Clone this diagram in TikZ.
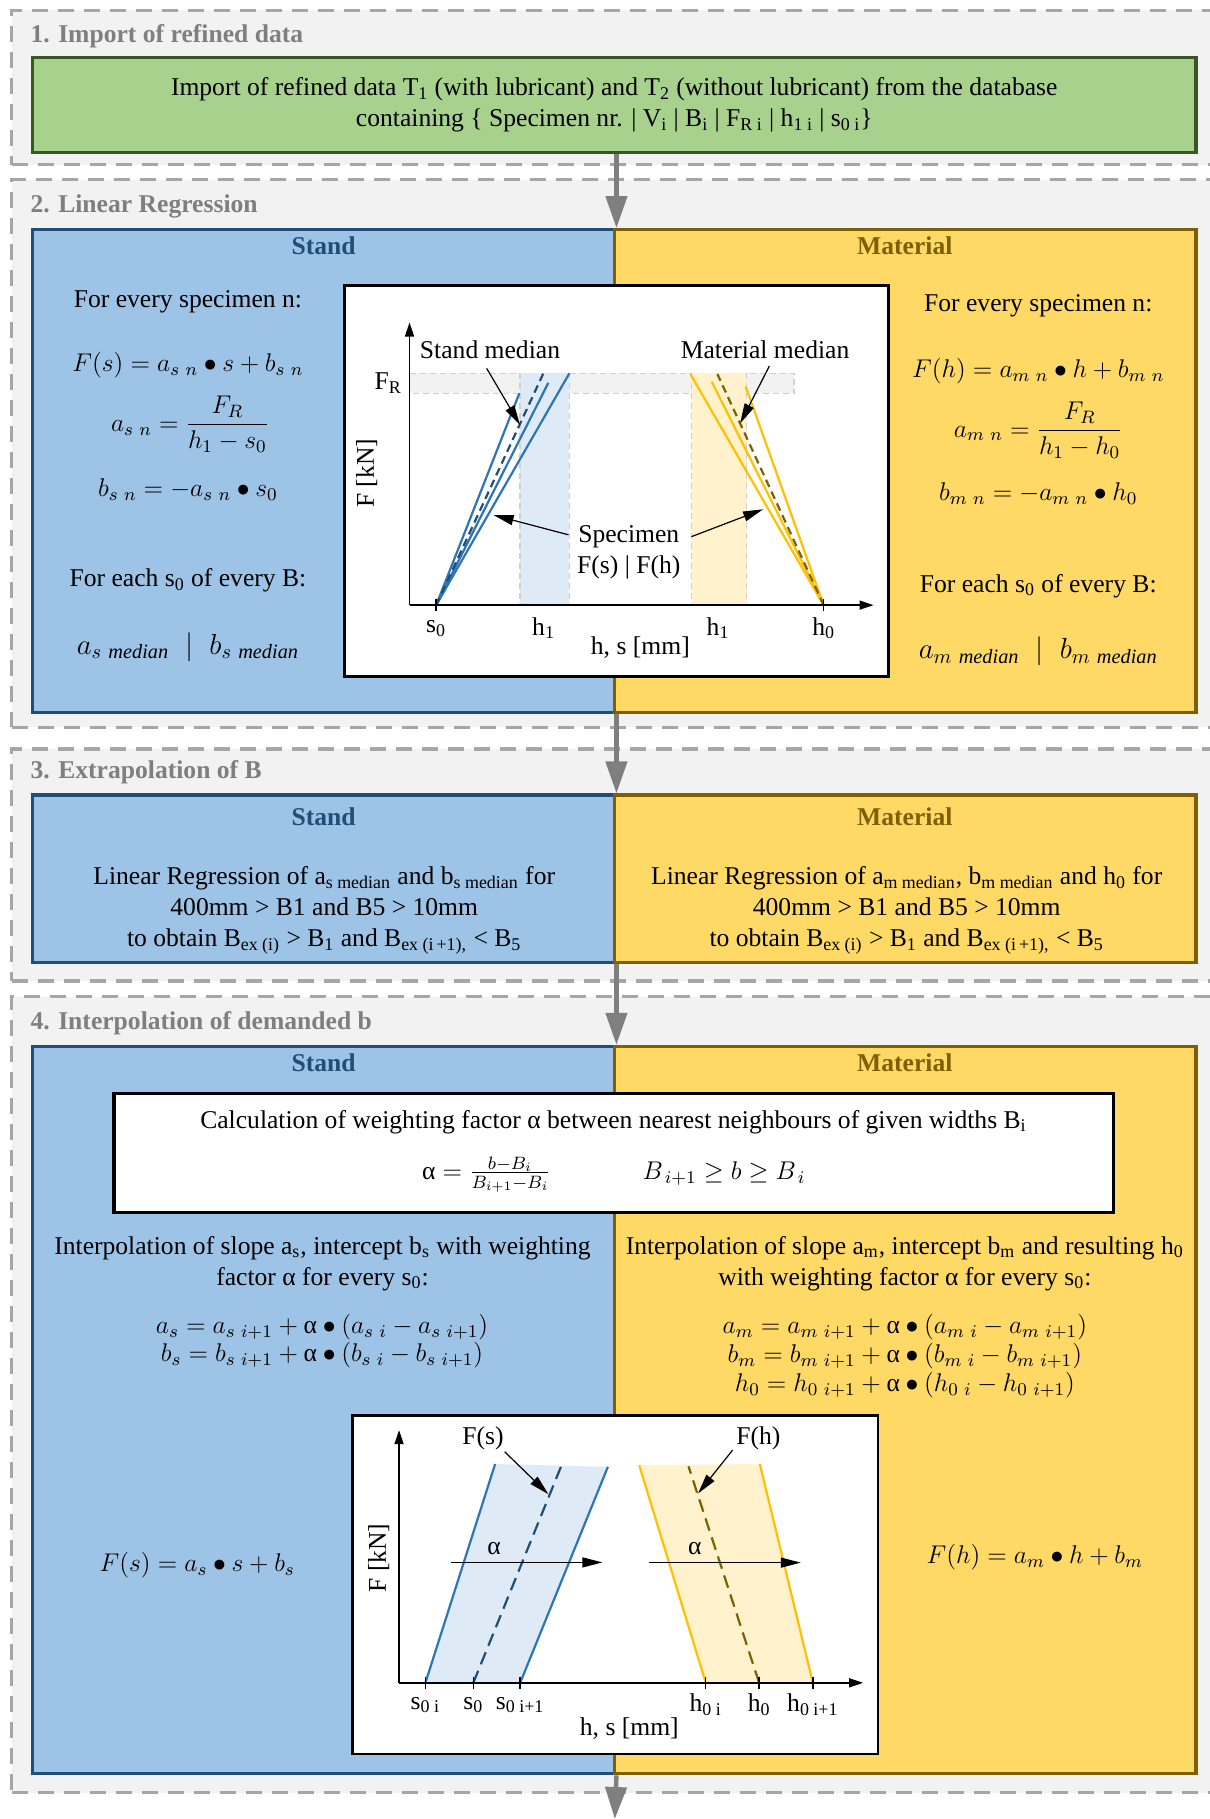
\documentclass[tikz,border=0pt]{standalone}
\usepackage{fix-cm}
\usepackage{amsmath}
\usepackage{fontspec}
\setmainfont{Liberation Serif}
\usetikzlibrary{arrows.meta,fit,calc}

\definecolor{secfill}{HTML}{F2F2F2}
\definecolor{secdraw}{HTML}{A6A6A6}
\definecolor{titlegray}{HTML}{7F7F7F}
\definecolor{greenfill}{HTML}{A9D18E}
\definecolor{greendraw}{HTML}{385723}
\definecolor{standfill}{HTML}{9DC3E6}
\definecolor{standdraw}{HTML}{1F4E79}
\definecolor{matfill}{HTML}{FFD966}
\definecolor{matdraw}{HTML}{7F6000}
\definecolor{arrgray}{HTML}{7F7F7F}
\definecolor{plotblue}{HTML}{2E75B6}
\definecolor{plotyellow}{HTML}{FFC000}
\definecolor{bandblue}{HTML}{DEEBF7}
\definecolor{bandyellow}{HTML}{FFF2CC}
\definecolor{bandedge}{HTML}{D0D0D0}

\newcommand{\ualpha}{\text{α}}

\tikzset{
  basefont/.style={font=\fontsize{12.8}{15.5}\selectfont},
  boldfont/.style={font=\fontsize{12.8}{15.5}\selectfont\bfseries},
  sect/.style={draw=secdraw, fill=secfill, line width=1.6pt, dash pattern=on 8pt off 5pt, inner sep=0pt},
  ttl/.style={boldfont, anchor=west, text=titlegray, inner sep=0pt},
  greenbox/.style={draw=greendraw, fill=greenfill, line width=1.6pt, inner sep=0pt},
  standbox/.style={draw=standdraw, fill=standfill, line width=1.6pt, inner sep=0pt},
  matbox/.style={draw=matdraw, fill=matfill, line width=1.6pt, inner sep=0pt},
  hstand/.style={boldfont, text=standdraw, inner sep=0pt},
  hmat/.style={boldfont, text=matdraw, inner sep=0pt},
  whitebox/.style={draw=black, fill=white, line width=1.3pt, inner sep=0pt},
  txt/.style={basefont, align=center, inner sep=0pt},
  medfont/.style={font=\fontsize{14.5}{16}\selectfont},
  mainarrow/.style={draw=arrgray, line width=2.2pt, -{Triangle[length=16pt,width=10.5pt]}},
  axisline/.style={draw=black, line width=0.8pt, -{Triangle[length=7pt,width=4.5pt]}},
  annot/.style={draw=black, line width=0.6pt, -{Triangle[length=10pt,width=5pt]}},
  tickline/.style={draw=black, line width=0.7pt},
  bline/.style={draw=plotblue, line width=1.1pt},
  yline/.style={draw=plotyellow, line width=1.1pt},
  bdash/.style={draw=standdraw, line width=1.1pt, dash pattern=on 4pt off 2.5pt},
  ydash/.style={draw=matdraw, line width=1.1pt, dash pattern=on 4pt off 2.5pt},
  bdashlong/.style={draw=standdraw, line width=1.1pt, dash pattern=on 6.5pt off 3.5pt},
  ydashlong/.style={draw=matdraw, line width=1.1pt, dash pattern=on 6.5pt off 3.5pt},
  edgedash/.style={draw=bandedge, line width=0.6pt, dash pattern=on 3pt off 2pt},
}

\begin{document}
\begin{tikzpicture}[x=0.58pt,y=-0.58pt,font=\fontsize{12.8}{15.5}\selectfont]
\path[use as bounding box, clip] (0,0) rectangle (1043,1568);

% ---------------- Section 1
\node[sect, fit={(10,9)(1080,142)}] (sec1) {};
\node[ttl] (t1) at (26,31.6) {1. Import of refined data};
\node[greenbox, fit={(28,49.5)(1031,131.5)}] (green) {};
\node[txt] (gtext) at (529.5,90.5) {Import of refined data T\textsubscript{1} (with lubricant) and T\textsubscript{2} (without lubricant) from the database\\containing \{ Specimen nr. | V\textsubscript{i} | B\textsubscript{i} | F\textsubscript{R i} | h\textsubscript{1 i} | s\textsubscript{0 i}\}};

% ---------------- Section 2
\node[sect, fit={(10,155)(1080,627)}] (sec2) {};
\node[ttl] (t2) at (26,178) {2. Linear Regression};
\node[standbox, fit={(28,198)(530,614)}] (s2s) {};
\node[matbox, fit={(530,198)(1031,614)}] (s2m) {};
\node[hstand] (h2s) at (279,212) {Stand};
\node[hmat] (h2m) at (780,212) {Material};

\node[txt] (l21) at (162,260) {For every specimen n:};
\node[txt] (l22) at (162,314.7) {$F(s) = a_{s\ n} \bullet s + b_{s\ n}$};
\node[txt] (l23) at (163.8,366) {$a_{s\ n} = \dfrac{F_R}{h_1 - s_0}$};
\node[txt] (l24) at (162,422.4) {$b_{s\ n} = -a_{s\ n} \bullet s_0$};
\node[txt] (l25) at (162,500) {For each s\textsubscript{0} of every B:};
\node[txt, medfont] (l26) at (162,557.5) {$a_{s\ \mathit{median}} \;\mid\; b_{s\ \mathit{median}}$};

\node[txt] (r21) at (895,264) {For every specimen n:};
\node[txt] (r22) at (895,319.6) {$F(h) = a_{m\ n} \bullet h + b_{m\ n}$};
\node[txt] (r23) at (895,371) {$a_{m\ n} = \dfrac{F_R}{h_1 - h_0}$};
\node[txt] (r24) at (895,425.7) {$b_{m\ n} = -a_{m\ n} \bullet h_0$};
\node[txt] (r25) at (895,505) {For each s\textsubscript{0} of every B:};
\node[txt, medfont] (r26) at (895,561.6) {$a_{m\ \mathit{median}} \;\mid\; b_{m\ \mathit{median}}$};

% plot 1
\node[whitebox, fit={(297,246)(766,583)}] (p1) {};
\fill[secfill] (353,321.8) rectangle (684.5,339);
\draw[edgedash] (353,321.8) -- (684.5,321.8) -- (684.5,339) -- (353,339);
\fill[bandblue] (448.3,321.8) rectangle (490.8,521.6);
\fill[bandyellow] (596.3,321.8) rectangle (643.7,521.6);
\draw[edgedash] (448.3,321.8) -- (448.3,521.6);
\draw[edgedash] (490.8,321.8) -- (490.8,521.6);
\draw[edgedash] (596.3,321.8) -- (596.3,521.6);
\draw[edgedash] (643.7,321.8) -- (643.7,521.6);
\coordinate (p1o) at (353,521.6);
\coordinate (p1s0) at (376,521.6);
\coordinate (p1h0) at (710,521.6);
\draw[bline] (p1s0) -- (447.7,339);
\draw[bline] (p1s0) -- (472.7,329.9);
\draw[bline] (p1s0) -- (490.8,321.8);
\draw[bdash] (p1s0) -- (468.4,321.8);
\draw[yline] (p1h0) -- (594.8,321.8);
\draw[yline] (p1h0) -- (613.5,329);
\draw[yline] (p1h0) -- (642.8,333.3);
\draw[ydash] (p1h0) -- (618.4,322.4);
\coordinate (p1yt) at (353,278);
\coordinate (p1xt) at (753,521.6);
\draw[axisline] (p1o) -- (p1yt);
\draw[axisline] (p1o) -- (p1xt);
\draw[tickline] (376,516) -- (376,526.5);
\draw[tickline] (710,516) -- (710,526.5);
\node[txt] (smed) at (422.4,301.7) {Stand median};
\node[txt] (mmed) at (659.5,301.7) {Material median};
\coordinate (smedA) at (419.5,317.5);
\coordinate (smedB) at (448.3,366.4);
\coordinate (mmedA) at (663.2,315.5);
\coordinate (mmedB) at (638,365);
\draw[annot] (smedA) -- (smedB);
\draw[annot] (mmedA) -- (mmedB);
\node[txt] (spec) at (542,476.3) {Specimen\\F(s) | F(h)};
\coordinate (specL) at (490,461);
\coordinate (specLt) at (425.5,444);
\coordinate (specR) at (596,462.6);
\coordinate (specRt) at (657.8,439);
\draw[annot] (specL) -- (specLt);
\draw[annot] (specR) -- (specRt);
\node[txt] (fr) at (334.6,330) {F\textsubscript{R}};
\node[txt, rotate=90] (p1ylab) at (316,408) {F [kN]};
\node[txt] (p1ts0) at (376,541.5) {s\textsubscript{0}};
\node[txt] (p1th1a) at (468.6,541.5) {h\textsubscript{1}};
\node[txt] (p1th1b) at (619,541.5) {h\textsubscript{1}};
\node[txt] (p1th0) at (710,541.5) {h\textsubscript{0}};
\node[txt] (p1xlab) at (552,558) {h, s [mm]};

% ---------------- Section 3
\node[sect, fit={(10,645.6)(1080,845.7)}] (sec3) {};
\node[ttl] (t3) at (26,666) {3. Extrapolation of B};
\node[standbox, fit={(28,685.3)(530,830)}] (s3s) {};
\node[matbox, fit={(530,685.3)(1031,830)}] (s3m) {};
\node[hstand] (h3s) at (279,704) {Stand};
\node[hmat] (h3m) at (780,704) {Material};
\node[txt] (l31) at (279.5,785) {Linear Regression of a\textsubscript{s median} and b\textsubscript{s median} for\\400mm \textgreater{} B1 and B5 \textgreater{} 10mm\\to obtain B\textsubscript{ex (i)} \textgreater{} B\textsubscript{1} and B\textsubscript{ex (i\,+1),} \textless{} B\textsubscript{5}};
\node[txt] (r31) at (781.6,785) {Linear Regression of a\textsubscript{m median}, b\textsubscript{m median} and h\textsubscript{0} for\\400mm \textgreater{} B1 and B5 \textgreater{} 10mm\\to obtain B\textsubscript{ex (i)} \textgreater{} B\textsubscript{1} and B\textsubscript{ex (i\,+1),} \textless{} B\textsubscript{5}};

% ---------------- Section 4
\node[sect, fit={(10,859)(1080,1545.4)}] (sec4) {};
\node[ttl] (t4) at (26,882) {4. Interpolation of demanded b};
\node[standbox, fit={(28,902)(530,1529)}] (s4s) {};
\node[matbox, fit={(530,902)(1031,1529)}] (s4m) {};
\node[hstand] (h4s) at (279,916) {Stand};
\node[hmat] (h4m) at (780,916) {Material};

\node[whitebox, line width=1.6pt, fit={(98.3,942.5)(960,1045)}] (calc) {};
\node[txt] (calct) at (528.8,967) {Calculation of weighting factor α between nearest neighbours of given widths B\textsubscript{i}};
\node[txt] (calcf) at (529,1012.4) {$\ualpha = \frac{b-B_i}{B_{i+1}-B_i}$\hspace{46pt}$B_{\,i+1} \geq b \geq B_{\,i}$};

\node[txt] (l41) at (278,1089) {Interpolation of slope a\textsubscript{s}, intercept b\textsubscript{s} with weighting\\factor α for every s\textsubscript{0}:};
\node[txt, font=\fontsize{12.8}{14.2}\selectfont] (l42) at (277.6,1156) {$a_s = a_{s\ i+1} + \ualpha \bullet (a_{s\ i} - a_{s\ i+1})$\\$b_s = b_{s\ i+1} + \ualpha \bullet (b_{s\ i} - b_{s\ i+1})$};
\node[txt] (r41) at (780,1089) {Interpolation of slope a\textsubscript{m}, intercept b\textsubscript{m} and resulting h\textsubscript{0}\\with weighting factor α for every s\textsubscript{0}:};
\node[txt, font=\fontsize{12.8}{14.5}\selectfont] (r42) at (780,1169) {$a_m = a_{m\ i+1} + \ualpha \bullet (a_{m\ i} - a_{m\ i+1})$\\$b_m = b_{m\ i+1} + \ualpha \bullet (b_{m\ i} - b_{m\ i+1})$\\$h_0 = h_{0\ i+1} + \ualpha \bullet (h_{0\ i} - h_{0\ i+1})$};
\node[txt] (l43) at (170,1349) {$F(s) = a_s \bullet s + b_s$};
\node[txt] (r43) at (892,1342) {$F(h) = a_m \bullet h + b_m$};

% plot 2
\node[whitebox, fit={(304,1220)(757,1512)}] (p2) {};
\fill[bandblue] (366.7,1450.6) -- (426.8,1262) -- (524,1264.4) -- (448.4,1450.6) -- cycle;
\fill[bandyellow] (608.4,1450.6) -- (551,1263) -- (655,1262) -- (700.7,1450.6) -- cycle;
\draw[bline] (366.7,1450.6) -- (426.8,1262);
\draw[bline] (448.4,1450.6) -- (524,1264.4);
\draw[bdashlong] (408,1450.6) -- (484.5,1262);
\draw[yline] (608.4,1450.6) -- (551,1263);
\draw[yline] (700.7,1450.6) -- (655,1262);
\draw[ydashlong] (654.4,1450.6) -- (593.5,1264);
\coordinate (p2o) at (344,1450.6);
\coordinate (p2yt) at (344,1232.8);
\coordinate (p2xt) at (744,1450.6);
\draw[axisline] (p2o) -- (p2yt);
\draw[axisline] (p2o) -- (p2xt);
\foreach \xx in {366.7,408,448.4,608.4,654.4,700.7} {
  \draw[tickline] (\xx,1445.4) -- (\xx,1456.3);
}
\coordinate (a1s) at (388.7,1346.8);
\coordinate (a1e) at (519.3,1346.8);
\coordinate (a2s) at (559.7,1347);
\coordinate (a2e) at (690.3,1347);
\draw[annot] (a1s) -- (a1e);
\draw[annot] (a2s) -- (a2e);
\node[txt] (al1) at (426,1334.8) {α};
\node[txt] (al2) at (598.9,1334.8) {α};
\node[txt] (fs) at (416.4,1239.8) {F(s)};
\node[txt] (fh) at (653.8,1239.8) {F(h)};
\coordinate (fsA) at (435,1251.4);
\coordinate (fsB) at (472.7,1288);
\coordinate (fhA) at (631.5,1250);
\coordinate (fhB) at (601.7,1287.4);
\draw[annot] (fsA) -- (fsB);
\draw[annot] (fhA) -- (fhB);
\node[txt] (q1) at (366.7,1469.8) {s\textsubscript{0 i}};
\node[txt] (q2) at (408,1469.8) {s\textsubscript{0}};
\node[txt] (q3) at (448.4,1469.8) {s\textsubscript{0 i+1}};
\node[txt] (q4) at (608.4,1469.8) {h\textsubscript{0 i}};
\node[txt] (q5) at (654.4,1469.8) {h\textsubscript{0}};
\node[txt] (q6) at (700.7,1469.8) {h\textsubscript{0 i+1}};
\node[txt] (p2xlab) at (542.5,1490) {h, s [mm]};
\node[txt, rotate=90] (p2ylab) at (326.4,1343) {F [kN]};

% ---------------- main arrows
\coordinate (endpt) at (530,1568);
\draw[mainarrow] (green.south -| s2s.north east) -- (s2s.north east);
\draw[mainarrow] (s2s.south east) -- (s3s.north east);
\draw[mainarrow] (s3s.south east) -- (s4s.north east);
\draw[mainarrow] (s4s.south east) -- (endpt);
\end{tikzpicture}
\end{document}
